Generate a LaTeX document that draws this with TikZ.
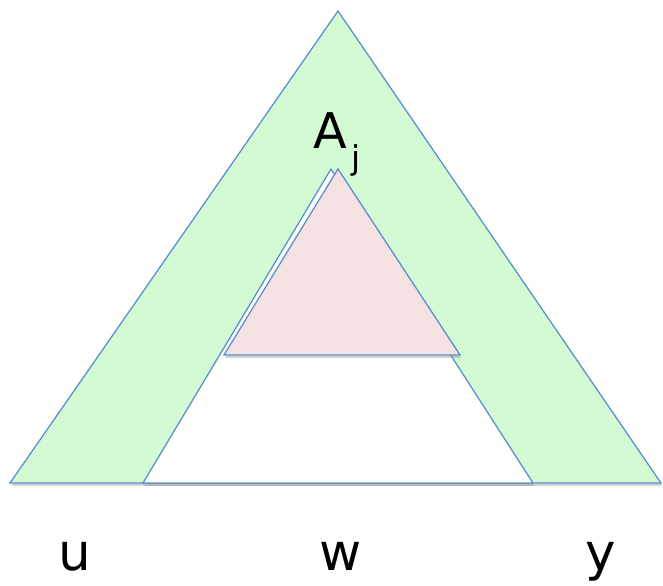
\documentclass[tikz,border=0pt]{standalone}
\usepackage{fontspec}
\setmainfont{DejaVu Sans}
\usetikzlibrary{shadows}
\definecolor{edge}{HTML}{5B8FCF}
\definecolor{leaf}{HTML}{D4FAD4}
\definecolor{rose}{HTML}{F4E2E2}
\tikzset{
  tri/.style={draw=edge,line width=1.1pt,line join=miter,
              drop shadow={opacity=0.35,shadow xshift=1pt,shadow yshift=-2.5pt}},
  outer/.style={tri,fill=leaf},
  hole/.style={tri,fill=white},
  inner/.style={tri,fill=rose},
  lbl/.style={font=\fontsize{44}{50}\selectfont,inner sep=0pt}
}
\begin{document}
\begin{tikzpicture}[x=0.03cm,y=-0.03cm]
\useasboundingbox (0,0) rectangle (663,586);
% triangles
\coordinate (top) at (338,11);
\coordinate (bl) at (10,483);
\coordinate (br) at (661,483);
\coordinate (htop) at (331,169);
\coordinate (hl) at (143,483);
\coordinate (hr) at (533,483);
\coordinate (ptop) at (338,169);
\coordinate (pl) at (224,355);
\coordinate (pr) at (460,355);
\draw[outer] (top) -- (bl) -- (br) -- cycle;
\draw[hole] (htop) -- (hl) -- (hr) -- cycle;
\draw[inner] (ptop) -- (pl) -- (pr) -- cycle;
% labels
\node[font=\fontsize{42}{48}\selectfont,inner sep=0pt] (A) at (330,131) {A};
\node[font=\fontsize{28}{32}\selectfont,inner sep=0pt] (j) at (356,160) {j};
\node[lbl] (u) at (75,556) {u};
\node[lbl] (w) at (341,556) {w};
\node[lbl] (y) at (601,562) {y};
\end{tikzpicture}
\end{document}
